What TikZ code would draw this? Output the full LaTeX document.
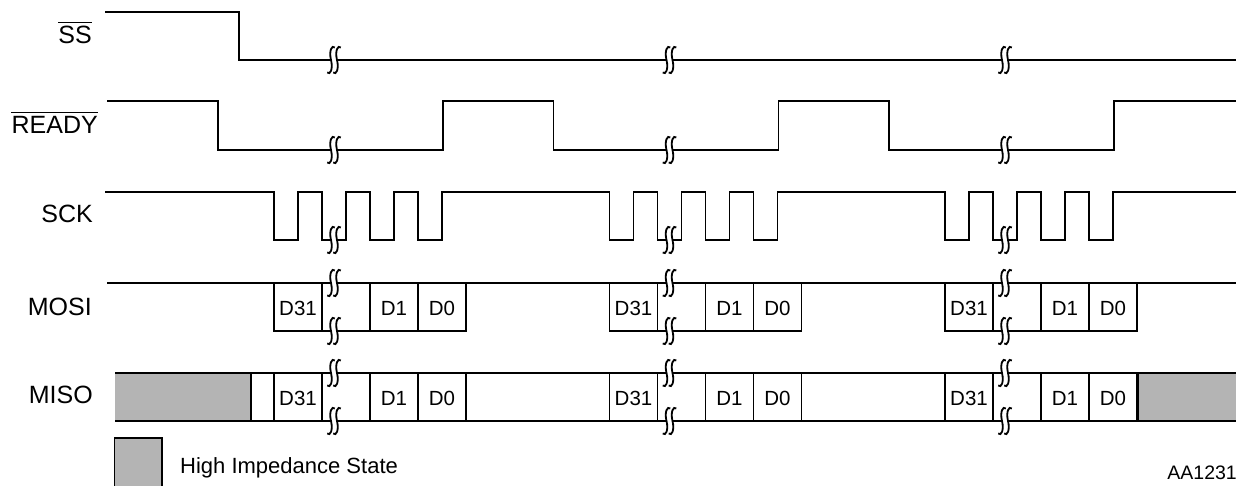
\documentclass[tikz,border=0pt]{standalone}
\usepackage{fontspec}
\setmainfont{Liberation Sans}
\definecolor{hizgray}{RGB}{180,180,180}
\tikzset{
  sig/.style={line width=1.8pt, line join=miter},
  brkline/.style={line width=1.8pt},
  ovl/.style={line width=1.4pt},
  lbl/.style={anchor=base east, inner sep=0pt, font=\fontsize{25}{30}\selectfont},
  dat/.style={anchor=base, inner sep=0pt, font=\fontsize{20.5}{24}\selectfont},
  note/.style={inner sep=0pt, font=\fontsize{22}{26}\selectfont},
  figidstyle/.style={inner sep=0pt, font=\fontsize{19.5}{23}\selectfont},
  hiz/.style={fill=hizgray},
  brk/.pic={
    \fill[white] (-3,-2.4) rectangle (3,2.4);
    \foreach \c in {-3,3}{
      \draw[brkline] ({\c-3.8},12.5) .. controls ({\c-0.8},15.5) and ({\c+2.2},9) .. (\c,0)
                     .. controls ({\c-2.2},-9) and ({\c+0.8},-15.5) .. ({\c+3.8},-12.5);
    }
  }
}
\begin{document}
\begin{tikzpicture}[x=1pt,y=-1pt]
\useasboundingbox (0,0) rectangle (1249,485);

% signal labels
\node[lbl] (lss) at (92,43) {SS};
\draw[ovl] ([yshift=3pt]lss.north west) -- ([yshift=3pt]lss.north east);
\node[lbl] (lrdy) at (98,133) {READY};
\draw[ovl] ([yshift=3pt]lrdy.north west) -- ([yshift=3pt]lrdy.north east);
\node[lbl] (lsck) at (93,222.5) {SCK};
\node[lbl] (lmosi) at (92,315) {MOSI};
\node[lbl] (lmiso) at (93,403) {MISO};

% high impedance fills of MISO
\fill[hiz] (115,373) rectangle (251,421);
\fill[hiz] (1138,373) rectangle (1236,421);

% SS
\draw[sig] (105,12) -- (239,12) -- (239,60) -- (1236,60);

% READY
\draw[sig] (107,101) -- (218,101) -- (218,150) -- (443,150) -- (443,101)
  -- (553.5,101) -- (553.5,150) -- (778.5,150) -- (778.5,101)
  -- (889,101) -- (889,150) -- (1114,150) -- (1114,101) -- (1236,101);

% SCK
\draw[sig] (105,192)
  \foreach \o in {0,335.5,671}{
    \foreach \k in {0,48,96,144}{
      -- ({274+\o+\k},192) -- ({274+\o+\k},240) -- ({298+\o+\k},240) -- ({298+\o+\k},192)
    }
  } -- (1236,192);

% MOSI
\draw[sig] (107,283) -- (1236,283);
% MISO
\draw[sig] (115,373) -- (1236,373);
\draw[sig] (115,421) -- (1236,421);
\draw[sig] (251,373) -- (251,421);
\draw[sig] (1138,373) -- (1138,421);

\foreach \o [count=\g] in {0,335.5,671}{
  % MOSI data cells
  \draw[sig] ({274+\o},283) -- ({274+\o},331) -- ({466+\o},331) -- ({466+\o},283);
  \foreach \v in {322,370,418}{
    \draw[sig] ({\v+\o},283) -- ({\v+\o},331);
  }
  \node[dat] (mosiA\g) at ({298+\o},315) {D31};
  \node[dat] (mosiB\g) at ({394+\o},315) {D1};
  \node[dat] (mosiC\g) at ({442+\o},315) {D0};
  % MISO data cells
  \foreach \v in {274,322,370,418,466}{
    \draw[sig] ({\v+\o},373) -- ({\v+\o},421);
  }
  \node[dat] (misoA\g) at ({298+\o},405) {D31};
  \node[dat] (misoB\g) at ({394+\o},405) {D1};
  \node[dat] (misoC\g) at ({442+\o},405) {D0};
  % break marks
  \foreach \y in {60,150,240,283,331,373,421}{
    \pic at ({334+\o},\y) {brk};
  }
}

% legend
\draw[line width=1.8pt, hiz] (114.5,438) rectangle (162,495);
\node[note, anchor=base west] (legend) at (180,473) {High Impedance State};
\node[figidstyle, anchor=base east] (figid) at (1237,479) {AA1231};
\end{tikzpicture}
\end{document}
